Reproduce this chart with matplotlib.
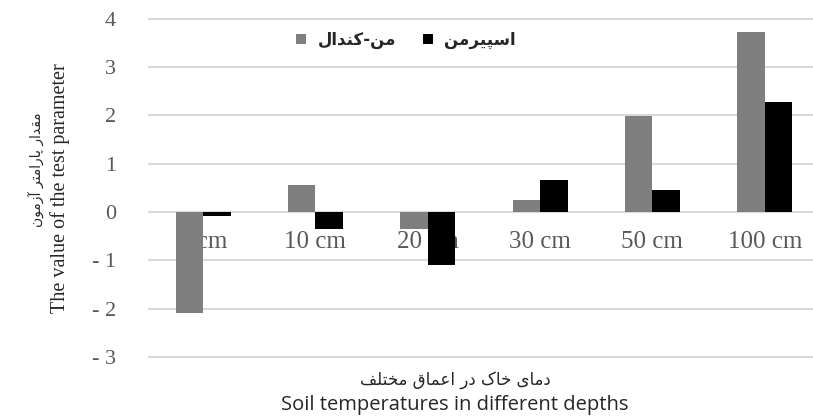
import numpy as np
import matplotlib
matplotlib.use('Agg')
import matplotlib.pyplot as plt

# data
categories = ['5 cm', '10 cm', '20 cm', '30 cm', '50 cm', '100 cm']
mann_kendall = [-2.09, 0.56, -0.35, 0.25, 1.98, 3.73]
spearman = [-0.09, -0.35, -1.10, 0.66, 0.46, 2.28]
yticks = [-3, -2, -1, 0, 1, 2, 3, 4]

mk_label = 'من-کندال'
sp_label = 'اسپیرمن'
xlabel_fa = 'دمای خاک در اعماق مختلف'
xlabel_en = 'Soil temperatures in different depths'
ylabel_fa = 'مقدار پارامتر آزمون'
ylabel_en = 'The value of the test parameter'

# matplotlib 3.10 has no arabic shaping, so pick the contextual forms by hand
# (isolated, final, initial, medial); two entries = letter joins only to the right
FORMS = {
    'ا': (0xFE8D, 0xFE8E), 'آ': (0xFE81, 0xFE82), 'د': (0xFEA9, 0xFEAA),
    'ر': (0xFEAD, 0xFEAE), 'ز': (0xFEAF, 0xFEB0), 'و': (0xFEED, 0xFEEE),
    'م': (0xFEE1, 0xFEE2, 0xFEE3, 0xFEE4), 'ن': (0xFEE5, 0xFEE6, 0xFEE7, 0xFEE8),
    'ل': (0xFEDD, 0xFEDE, 0xFEDF, 0xFEE0), 'س': (0xFEB1, 0xFEB2, 0xFEB3, 0xFEB4),
    'خ': (0xFEA5, 0xFEA6, 0xFEA7, 0xFEA8), 'ع': (0xFEC9, 0xFECA, 0xFECB, 0xFECC),
    'ق': (0xFED5, 0xFED6, 0xFED7, 0xFED8), 'ت': (0xFE95, 0xFE96, 0xFE97, 0xFE98),
    'ف': (0xFED1, 0xFED2, 0xFED3, 0xFED4), 'پ': (0xFB56, 0xFB57, 0xFB58, 0xFB59),
    'ک': (0xFB8E, 0xFB8F, 0xFB90, 0xFB91), 'ی': (0xFBFC, 0xFBFD, 0xFBFE, 0xFBFF),
}

def shape(s):
    out = []
    for i, c in enumerate(s):
        f = FORMS.get(c)
        if f is None:
            out.append(c)
            continue
        prev = s[i - 1] if i > 0 else ''
        nxt = s[i + 1] if i + 1 < len(s) else ''
        jp = prev in FORMS and len(FORMS[prev]) == 4
        jn = nxt in FORMS and len(f) == 4
        k = 3 if (jp and jn) else 1 if jp else 2 if jn else 0
        out.append(chr(f[k]))
    return ''.join(reversed(out))

fa_font = ['DejaVu Sans']
serif = ['Liberation Serif', 'DejaVu Serif']
tick_color = '#595959'

fig = plt.figure(figsize=(8.13, 4.19), dpi=100)
W, H = 813, 419
ylo, yhi = -3.05, 4.05
ppu = 48.3
top_px = 212 - yhi * ppu
bot_px = 212 - ylo * ppu
ax = fig.add_axes([148 / W, 1 - bot_px / H, (W - 148) / W, (bot_px - top_px) / H])

x = np.arange(len(categories))
w = 0.245
b1 = ax.bar(x - w / 2, mann_kendall, w, color='#7f7f7f', zorder=3, label=shape(mk_label))
b2 = ax.bar(x + w / 2, spearman, w, color='#000000', zorder=3, label=shape(sp_label))

ax.set_ylim(ylo, yhi)
ax.set_xlim(-0.49, 5.43)
ax.set_yticks(yticks)
ax.set_yticklabels([('- %d' % -v) if v < 0 else str(v) for v in yticks],
                   family=serif, fontsize=16, color=tick_color)
ax.tick_params(axis='y', length=0, pad=23)
ax.set_xticks([])
ax.grid(axis='y', color='#d9d9d9', linewidth=1.5, zorder=0)
for s in ax.spines.values():
    s.set_visible(False)

# category labels sit just under the zero line, behind the bars
for xi, c in zip(x, categories):
    ax.text(xi, -0.62, c, ha='center', va='center', family=serif,
            fontsize=18, color=tick_color, zorder=1)

leg = ax.legend(handles=[b1, b2], ncol=2, frameon=False, loc='center',
                bbox_to_anchor=(406 / W, 1 - 40 / H), bbox_transform=fig.transFigure,
                prop={'family': fa_font, 'size': 12, 'weight': 'bold'},
                handlelength=0.6, handleheight=0.6, columnspacing=1.6, handletextpad=0.7)
for t in leg.get_texts():
    t.set_color('#262626')

fig.text(455 / W, 1 - 380 / H, shape(xlabel_fa), ha='center', va='center',
         family=fa_font, fontsize=12, color='#262626')
fig.text(455 / W, 1 - 405 / H, xlabel_en, ha='center', va='center',
         family=['Open Sans', 'DejaVu Sans'], fontsize=14.5, color='#262626')
fig.text(60 / W, 1 - 188 / H, ylabel_en, ha='center', va='center', rotation=90,
         family=serif, fontsize=14.5, color='#262626')
fig.text(37 / W, 1 - 170 / H, shape(ylabel_fa), ha='center', va='center', rotation=90,
         family=fa_font, fontsize=10, color='#262626')

fig.savefig('out.png', dpi=100)
